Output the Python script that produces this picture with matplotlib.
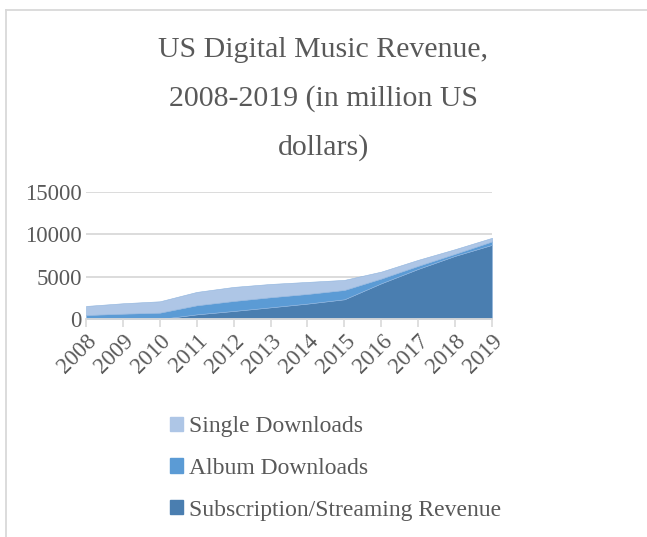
import matplotlib.pyplot as plt
from matplotlib.lines import Line2D
from matplotlib.patches import Patch

# US digital music revenue by format, million USD
years = [2008, 2009, 2010, 2011, 2012, 2013, 2014, 2015, 2016, 2017, 2018, 2019]
streaming = [0, 0, 0, 550, 950, 1380, 1820, 2330, 4220, 5920, 7460, 8760]
album_dl = [470, 630, 750, 1070, 1180, 1190, 1140, 1100, 560, 360, 240, 400]
single_dl = [1070, 1230, 1340, 1580, 1660, 1570, 1420, 1190, 820, 710, 550, 430]
yticks = [0, 5000, 10000, 15000]

c_single = "#AEC6E6"
c_album = "#5B9BD5"
c_stream = "#4A7EB0"
txt = "#595959"
grid = "#D9D9D9"

plt.rcParams["font.family"] = ["Liberation Serif", "DejaVu Serif"]

fig = plt.figure(figsize=(6.47, 5.37), dpi=100)
ax = fig.add_axes([86 / 647, 1 - 319 / 537, (492 - 86) / 647, (319 - 192) / 537])

x = list(range(len(years)))
ax.stackplot(x, streaming, album_dl, single_dl,
             colors=[c_stream, c_album, c_single], edgecolor="#8FB4DE", linewidth=0.4)

ax.set_xlim(0, len(years) - 1)
ax.set_ylim(0, 15000)
ax.set_yticks(yticks)
ax.set_yticklabels([str(v) for v in yticks], fontsize=16.5, color=txt)
ax.set_xticks(x)
ax.set_xticklabels([str(y) for y in years], fontsize=16.5, color=txt,
                   rotation=45, ha="right", rotation_mode="anchor")
ax.tick_params(axis="y", length=0, pad=3)
ax.tick_params(axis="x", length=6, color=grid, width=1.2, direction="out", pad=2)
for v in yticks[1:]:
    ax.axhline(v, color=grid, lw=1.3, zorder=0)
for s in ["top", "right", "left"]:
    ax.spines[s].set_visible(False)
ax.spines["bottom"].set_color(grid)
ax.spines["bottom"].set_linewidth(1.3)
ax.spines["bottom"].set_zorder(5)

fig.text(0.5, 1 - 99 / 537, "US Digital Music Revenue,\n2008-2019 (in million US\ndollars)",
         ha="center", va="center", fontsize=21.5, color=txt, linespacing=2.08)

handles = [Patch(color=c_single), Patch(color=c_album), Patch(color=c_stream)]
labels = ["Single Downloads", "Album Downloads", "Subscription/Streaming Revenue"]
fig.legend(handles, labels, loc="upper left", bbox_to_anchor=(170 / 647, 1 - 416 / 537),
           frameon=False, fontsize=17, labelcolor=txt, handlelength=0.55, handleheight=0.55,
           handletextpad=0.25, labelspacing=0.88, borderpad=0, borderaxespad=0)

# chart frame, cropped at right and bottom
fig.add_artist(Line2D([6 / 647, 6 / 647], [0, 1 - 10 / 537], color=grid, lw=1.3))
fig.add_artist(Line2D([6 / 647, 1], [1 - 10 / 537, 1 - 10 / 537], color=grid, lw=1.3))

fig.savefig("out.png", dpi=100)
